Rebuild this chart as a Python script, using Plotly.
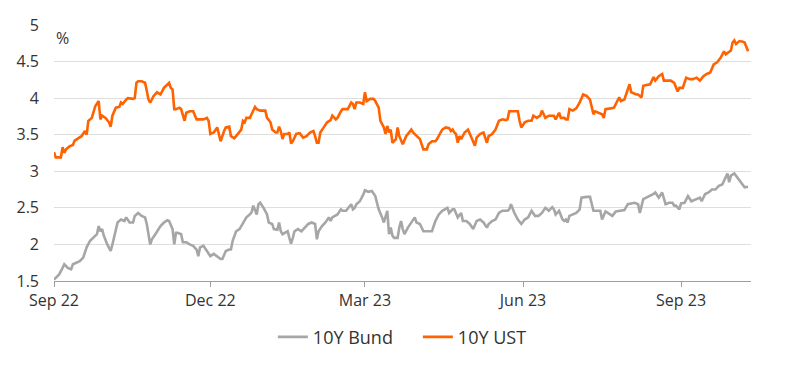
import pandas as pd
import plotly.graph_objects as go

START = "2022-09-01"

# days since START, 10Y UST yield (%)
ust_day = [0, 1, 4, 5, 6, 7, 9, 11, 12, 14, 16, 18, 19, 20, 22, 24, 26, 27, 28, 30,
           32, 33, 34, 36, 38, 39, 40, 42, 43, 46, 47, 48, 49, 51, 53, 54, 55, 56, 58, 60,
           62, 64, 66, 67, 68, 69, 70, 71, 73, 74, 76, 77, 79, 81, 83, 85, 87, 89, 90, 91,
           93, 95, 96, 97, 99, 100, 102, 103, 105, 107, 109, 110, 111, 112, 114, 115, 117, 118, 120, 123,
           124, 126, 127, 129, 130, 131, 132, 133, 134, 136, 137, 138, 139, 141, 143, 145, 147, 149, 151, 152,
           153, 154, 155, 157, 159, 161, 162, 164, 165, 167, 168, 171, 173, 174, 175, 176, 178, 180, 181, 182,
           184, 186, 187, 189, 190, 192, 193, 194, 195, 196, 197, 199, 200, 201, 203, 205, 207, 208, 209, 211,
           213, 215, 217, 218, 220, 222, 223, 225, 226, 228, 230, 231, 232, 233, 234, 235, 236, 237, 239, 241,
           243, 245, 246, 248, 250, 252, 253, 255, 257, 259, 261, 263, 264, 265, 268, 270, 271, 272, 274, 276,
           278, 279, 281, 283, 284, 286, 288, 291, 292, 294, 295, 297, 298, 299, 300, 302, 304, 306, 308, 310,
           312, 314, 315, 317, 319, 320, 321, 324, 326, 327, 329, 330, 332, 335, 336, 339, 340, 342, 343, 345,
           347, 349, 350, 352, 354, 355, 357, 359, 361, 362, 363, 364, 366, 368, 370, 372, 374, 376, 378, 380,
           382, 384, 386, 388, 390, 391, 394, 395, 396, 397, 399, 401, 402, 404]
ust_yield = [3.26, 3.19, 3.19, 3.33, 3.25, 3.30, 3.34, 3.36, 3.42, 3.45, 3.48, 3.55, 3.50, 3.69, 3.73, 3.89, 3.96, 3.71, 3.76, 3.73,
             3.67, 3.61, 3.76, 3.87, 3.88, 3.94, 3.92, 3.98, 4.00, 3.99, 4.00, 4.21, 4.23, 4.23, 4.21, 4.10, 3.98, 3.94, 4.03, 4.08,
             4.05, 4.14, 4.19, 4.21, 4.14, 4.12, 3.85, 3.85, 3.87, 3.85, 3.69, 3.80, 3.82, 3.82, 3.71, 3.71, 3.71, 3.73, 3.69, 3.51,
             3.53, 3.60, 3.51, 3.41, 3.55, 3.60, 3.61, 3.48, 3.45, 3.51, 3.57, 3.69, 3.67, 3.73, 3.73, 3.78, 3.88, 3.85, 3.83, 3.83,
             3.73, 3.67, 3.57, 3.53, 3.53, 3.61, 3.55, 3.44, 3.51, 3.51, 3.53, 3.38, 3.41, 3.51, 3.52, 3.46, 3.48, 3.53, 3.55, 3.48,
             3.39, 3.39, 3.53, 3.60, 3.67, 3.70, 3.76, 3.71, 3.73, 3.82, 3.85, 3.85, 3.94, 3.92, 3.85, 3.94, 3.94, 3.92, 4.08, 3.96,
             3.99, 3.99, 3.96, 3.87, 3.69, 3.60, 3.51, 3.62, 3.53, 3.57, 3.39, 3.44, 3.60, 3.48, 3.37, 3.48, 3.55, 3.57, 3.53, 3.48,
             3.44, 3.30, 3.30, 3.37, 3.41, 3.41, 3.44, 3.53, 3.57, 3.60, 3.59, 3.55, 3.57, 3.53, 3.51, 3.39, 3.48, 3.44, 3.53, 3.57,
             3.46, 3.35, 3.46, 3.51, 3.53, 3.39, 3.48, 3.51, 3.57, 3.69, 3.71, 3.70, 3.71, 3.82, 3.82, 3.82, 3.69, 3.60, 3.67, 3.69,
             3.69, 3.76, 3.73, 3.76, 3.83, 3.73, 3.76, 3.76, 3.71, 3.80, 3.73, 3.73, 3.71, 3.71, 3.85, 3.83, 3.86, 3.94, 4.05, 4.03,
             3.98, 3.78, 3.82, 3.80, 3.78, 3.73, 3.85, 3.86, 3.87, 3.92, 4.01, 3.96, 3.98, 4.19, 4.08, 4.05, 4.05, 4.01, 4.17, 4.18,
             4.19, 4.29, 4.24, 4.30, 4.33, 4.24, 4.24, 4.24, 4.21, 4.14, 4.09, 4.14, 4.14, 4.28, 4.26, 4.26, 4.28, 4.24, 4.30, 4.33,
             4.35, 4.46, 4.49, 4.55, 4.64, 4.60, 4.65, 4.76, 4.79, 4.74, 4.78, 4.77, 4.76, 4.64]

# days since START, 10Y Bund yield (%)
bund_day = [0, 2, 3, 5, 6, 8, 10, 11, 13, 15, 17, 18, 19, 21, 23, 25, 26, 27, 28, 29,
            31, 33, 34, 36, 37, 39, 41, 42, 44, 46, 47, 49, 51, 53, 54, 56, 57, 59, 60, 62,
            64, 66, 67, 68, 69, 70, 71, 72, 74, 75, 77, 79, 81, 83, 84, 85, 87, 89, 91, 93,
            95, 97, 98, 100, 102, 103, 104, 106, 108, 110, 112, 114, 115, 116, 117, 118, 119, 120, 122, 124,
            125, 127, 128, 130, 131, 132, 133, 135, 136, 137, 138, 139, 140, 142, 144, 146, 148, 150, 152, 153,
            154, 156, 158, 160, 161, 162, 165, 167, 168, 170, 172, 173, 174, 175, 176, 178, 180, 181, 183, 185,
            187, 189, 191, 192, 194, 195, 196, 197, 198, 200, 201, 202, 203, 204, 206, 208, 210, 211, 213, 215,
            218, 220, 222, 224, 226, 228, 229, 230, 232, 233, 234, 235, 237, 238, 240, 242, 244, 246, 248, 250,
            252, 253, 255, 257, 259, 261, 264, 265, 266, 268, 270, 272, 274, 276, 278, 280, 282, 284, 286, 288,
            290, 291, 292, 294, 296, 297, 298, 299, 300, 302, 304, 306, 307, 310, 312, 314, 316, 318, 319, 321,
            323, 325, 327, 329, 332, 334, 336, 338, 340, 341, 343, 345, 347, 349, 350, 352, 354, 356, 358, 360,
            361, 362, 364, 365, 367, 369, 371, 374, 376, 377, 379, 381, 383, 385, 387, 389, 390, 392, 393, 394,
            396, 398, 400, 402, 404]
bund_yield = [1.52, 1.57, 1.59, 1.68, 1.73, 1.68, 1.66, 1.73, 1.75, 1.77, 1.82, 1.89, 1.96, 2.05, 2.09, 2.14, 2.25, 2.18, 2.21, 2.12,
              2.00, 1.91, 2.00, 2.18, 2.30, 2.34, 2.32, 2.37, 2.30, 2.30, 2.39, 2.43, 2.39, 2.37, 2.28, 2.00, 2.07, 2.14, 2.18, 2.25,
              2.30, 2.33, 2.32, 2.25, 2.21, 2.00, 2.16, 2.16, 2.14, 2.03, 2.03, 2.00, 1.98, 1.93, 1.84, 1.96, 1.98, 1.91, 1.84, 1.87,
              1.84, 1.80, 1.80, 1.91, 1.93, 1.93, 2.05, 2.18, 2.21, 2.30, 2.37, 2.41, 2.44, 2.53, 2.48, 2.41, 2.55, 2.57, 2.50, 2.41,
              2.30, 2.28, 2.21, 2.20, 2.30, 2.18, 2.14, 2.16, 2.18, 2.09, 2.01, 2.09, 2.18, 2.21, 2.18, 2.23, 2.28, 2.30, 2.28, 2.07,
              2.18, 2.25, 2.30, 2.37, 2.32, 2.37, 2.41, 2.48, 2.46, 2.46, 2.53, 2.55, 2.48, 2.50, 2.55, 2.59, 2.68, 2.74, 2.72, 2.73,
              2.66, 2.48, 2.37, 2.30, 2.46, 2.14, 2.23, 2.12, 2.09, 2.09, 2.23, 2.32, 2.21, 2.14, 2.23, 2.30, 2.37, 2.30, 2.28, 2.18,
              2.18, 2.18, 2.32, 2.41, 2.46, 2.48, 2.50, 2.43, 2.48, 2.48, 2.43, 2.37, 2.43, 2.32, 2.32, 2.28, 2.21, 2.32, 2.34, 2.30,
              2.23, 2.28, 2.32, 2.34, 2.43, 2.46, 2.46, 2.48, 2.55, 2.43, 2.34, 2.28, 2.34, 2.37, 2.46, 2.39, 2.39, 2.43, 2.50, 2.46,
              2.51, 2.48, 2.41, 2.46, 2.34, 2.32, 2.34, 2.30, 2.39, 2.41, 2.43, 2.48, 2.64, 2.65, 2.65, 2.46, 2.46, 2.46, 2.34, 2.45,
              2.42, 2.39, 2.45, 2.46, 2.47, 2.55, 2.56, 2.57, 2.55, 2.43, 2.62, 2.64, 2.67, 2.69, 2.71, 2.64, 2.71, 2.55, 2.57, 2.57,
              2.53, 2.53, 2.48, 2.56, 2.57, 2.66, 2.59, 2.62, 2.64, 2.59, 2.69, 2.71, 2.75, 2.75, 2.80, 2.82, 2.87, 2.97, 2.85, 2.94,
              2.97, 2.91, 2.85, 2.78, 2.79]

tick_dates = ["2022-09-01", "2022-12-01", "2023-03-01", "2023-06-01", "2023-09-01"]
tick_labels = ["Sep 22", "Dec 22", "Mar 23", "Jun 23", "Sep 23"]
y_ticks = [1.5, 2, 2.5, 3, 3.5, 4, 4.5, 5]
y_labels = ["1.5", "2", "2.5", "3", "3.5", "4", "4.5", "5"]

start = pd.Timestamp(START)
ust_x = start + pd.to_timedelta(ust_day, unit="D")
bund_x = start + pd.to_timedelta(bund_day, unit="D")

FONT = "Open Sans"
TXT = "#333333"
FS = 16

fig = go.Figure()
fig.add_trace(go.Scatter(x=bund_x, y=bund_yield, mode="lines", name="10Y Bund",
                         line=dict(color="#A6A6A6", width=2.6)))
fig.add_trace(go.Scatter(x=ust_x, y=ust_yield, mode="lines", name="10Y UST",
                         line=dict(color="#FF6200", width=2.6)))

# page body adds an 8px offset; margins compensate so the plot lands where the reference has it
fig.update_layout(
    width=800, height=368,
    margin=dict(l=46, r=57, t=17, b=95, autoexpand=False),
    paper_bgcolor="white", plot_bgcolor="white",
    font=dict(family=FONT, size=FS, color=TXT),
    showlegend=True,
    legend=dict(orientation="h", x=0.314, xanchor="left", y=-0.147, yanchor="top",
                font=dict(family=FONT, size=18, color=TXT),
                entrywidth=100, entrywidthmode="pixels",
                traceorder="normal"),
    annotations=[dict(text="%", xref="paper", yref="paper", x=0.0, y=0.95,
                      xanchor="left", yanchor="middle", showarrow=False,
                      font=dict(family=FONT, size=FS, color=TXT))],
)
fig.update_xaxes(
    type="date", range=["2022-09-01", "2023-10-11 17:00"], automargin=False,
    tickmode="array", tickvals=tick_dates, ticktext=tick_labels,
    showgrid=False, zeroline=False,
    showline=True, linecolor="#9E9E9E", linewidth=1,
    ticks="outside", ticklen=5, tickcolor="#9E9E9E",
    tickfont=dict(family=FONT, size=FS, color=TXT),
)
fig.update_yaxes(
    range=[1.5, 5], tickmode="array", tickvals=y_ticks, ticktext=y_labels,
    automargin=False,
    showgrid=True, gridcolor="#DEDEDE", gridwidth=1, zeroline=False,
    showline=False, ticks="", ticklabelstandoff=14,
    tickfont=dict(family=FONT, size=FS, color=TXT),
)

fig.write_html("out.html")
